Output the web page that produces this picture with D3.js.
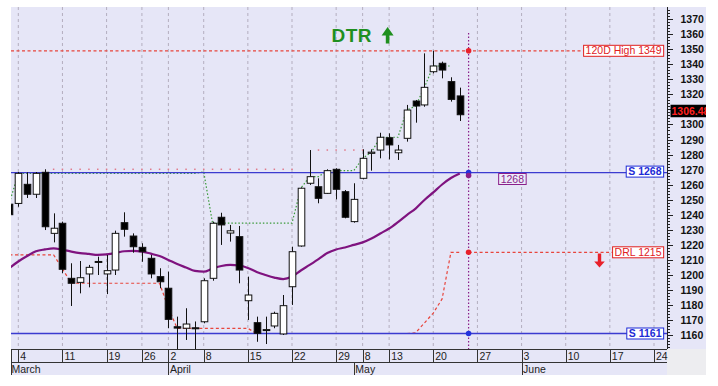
<!DOCTYPE html>
<html>
<head>
<meta charset="utf-8">
<script src="https://cdn.jsdelivr.net/npm/d3@7/dist/d3.min.js"></script>
<style>
body { margin: 0; background: #fff; }
svg { display: block; }
text { font-family: "Liberation Sans", Arial, sans-serif; }
</style>
</head>
<body>
<div id="chart"></div>
<script>
// candle data, trading day index -1 .. 50
var dayIdx = d3.range(-1, 51);
var open  = [1247, 1247.5, 1260.2, 1253.6, 1268.2, 1227.6, 1234.3, 1197.7, 1195.0, 1200.6, 1208.4, 1200.6, 1203.2, 1234.7, 1225.8, 1218.3, 1211.0, 1198.8, 1191.1, 1165.5, 1164.5, 1164.8, 1168.8, 1197.7, 1238.3, 1227.8, 1225.4, 1182.8, 1168.2, 1163.3, 1166.0, 1160.7, 1192.1, 1219.2, 1260.9, 1258.6, 1254.2, 1270.2, 1255.3, 1235.4, 1264.2, 1280.8, 1283.0, 1291.2, 1281.2, 1290.8, 1315.6, 1313.0, 1335.1, 1340.7, 1328.5, 1319.0];
var high  = [1249, 1268.4, 1268.2, 1268.4, 1270.2, 1240.9, 1235.4, 1207.7, 1209.2, 1206.6, 1212.1, 1213.2, 1229.4, 1241.6, 1227.6, 1221.0, 1213.2, 1204.4, 1202.1, 1172.2, 1177.8, 1169.0, 1197.7, 1235.4, 1241.3, 1233.2, 1232.5, 1198.8, 1172.2, 1172.2, 1175.5, 1186.6, 1218.7, 1258.2, 1283.0, 1264.2, 1270.2, 1270.9, 1256.4, 1260.9, 1283.5, 1283.5, 1294.5, 1294.1, 1286.4, 1313.0, 1316.3, 1347.3, 1349.0, 1341.8, 1331.4, 1324.5];
var low   = [1238, 1245.3, 1251.1, 1251.1, 1229.8, 1221.6, 1201.2, 1179.3, 1187.7, 1191.7, 1199.9, 1187.2, 1199.9, 1225.4, 1214.7, 1208.7, 1197.7, 1191.1, 1164.5, 1150.0, 1156.7, 1150.0, 1167.8, 1196.1, 1219.9, 1222.1, 1194.4, 1170.0, 1155.5, 1154.0, 1164.5, 1160.0, 1180.0, 1218.7, 1259.8, 1247.6, 1253.8, 1250.2, 1237.6, 1234.7, 1263.5, 1269.3, 1277.5, 1276.8, 1276.4, 1288.6, 1301.2, 1311.8, 1334.0, 1330.7, 1315.2, 1302.3];
var close = [1240, 1267.5, 1253.6, 1267.5, 1232.0, 1231.0, 1203.7, 1194.4, 1198.1, 1205.0, 1208.9, 1202.8, 1227.6, 1230.3, 1218.7, 1215.4, 1200.6, 1195.4, 1170.4, 1164.6, 1167.3, 1164.3, 1196.1, 1234.3, 1233.2, 1229.3, 1203.2, 1186.6, 1161.1, 1163.6, 1174.4, 1179.5, 1215.4, 1257.6, 1265.3, 1250.9, 1269.3, 1256.9, 1238.3, 1250.2, 1277.5, 1281.6, 1291.5, 1286.4, 1283.0, 1309.6, 1312.3, 1324.7, 1338.9, 1336.2, 1316.7, 1306.48];

// moving average (purple)
var maLine = [1204.6, 1208.9, 1212.5, 1215.7, 1216.9, 1217.6, 1216.7, 1215.5, 1214.5, 1213.9, 1213.3, 1213.6, 1214.5, 1215.7, 1215.9, 1215.5, 1214.1, 1212.5, 1209.9, 1207.2, 1204.9, 1202.6, 1202.1, 1204.2, 1205.9, 1206.6, 1206.2, 1204.6, 1201.9, 1199.9, 1198.2, 1197.2, 1198.9, 1202.9, 1206.6, 1210.5, 1214.5, 1216.9, 1218.2, 1219.9, 1221.6, 1224.2, 1227.5, 1230.8, 1235.1, 1239.8, 1244.1, 1249.8, 1254.8, 1260.1, 1264.4, 1267.4];

// DTR trailing lines
var trailUp = [1248, 1267.5, 1267.5, 1267.5, 1267.5, 1267.5, 1267.5, 1267.5, 1267.5, 1267.5, 1267.5, 1267.5, 1267.5, 1267.5, 1267.5, 1267.5, 1267.5, 1267.5, 1267.5, 1267.5, 1267.5, 1267.5, 1268.5, 1234.4, 1234.4, 1234.4, 1234.4, 1234.4, 1234.4, 1234.4, 1234.4, 1234.4, 1234.4, 1257.6, 1265.3, 1265.3, 1269.3, 1269.3, 1269.3, 1269.3, 1277.5, 1281.6, 1291.5, 1291.5, 1291.5, 1309.6, 1312.3, 1324.7, 1338.9, 1338.9, 1338.9, null];
var trailDn = [1213.3, 1213.3, 1213.3, 1213.3, 1213.3, 1213.3, 1204.0, 1194.4, 1194.4, 1194.4, 1194.4, 1194.4, 1194.4, 1194.4, 1194.4, 1194.4, 1194.4, 1194.4, 1178.0, 1164.4, 1164.4, 1164.4, 1164.4, 1164.4, 1164.4, 1164.4, 1164.4, 1164.4, 1161.0, 1161.0, 1161.0, 1161.0, 1161.0, 1161.0, 1161.0, 1161.0, 1161.0, 1161.0, 1161.0, 1161.0, 1161.0, 1161.0, 1161.0, 1161.0, 1161.0, 1161.0, 1161.5, 1168.0, 1174.6, 1184.0, 1215.0, 1215.0];

// swing high markers
var markIdx = d3.range(4, 32).concat(d3.range(34, 40));
var markVal = markIdx.map(function (i) { return i < 32 ? 1270.2 : 1283.0; });

// date axis
var tickIdx = [0, 5, 10, 14, 17, 21, 26, 31, 36, 39, 42, 47, 52, 57, 62, 67, 72];
var tickLabels = ["4", "11", "19", "26", "2", "8", "15", "22", "29", "8", "13", "20", "27", "3", "10", "17", "24"];
var monthIdx = [17, 38, 57];
var monthLabels = ["March", "April", "May", "June"];

// price axis labels (1310 sits under the last price tag)
var priceLabels = [1160, 1170, 1180, 1190, 1200, 1210, 1220, 1230, 1240, 1250, 1260, 1270, 1280, 1290, 1300, 1320, 1330, 1340, 1350, 1360, 1370];

// price levels
var hiLevel = 1349, supTop = 1268, supBot = 1161, drlLevel = 1215, maEnd = 1266;
var markerIdx = 51;

var W = 718, H = 386;
var L = 11, T = 7, R = 667, B = 349;

var x = d3.scaleLinear().domain([0, 72]).range([18.3, 654]);
var y = d3.scaleLinear().domain([1160, 1350]).range([335, 49.3]);

var svg = d3.select("#chart").append("svg").attr("width", W).attr("height", H);

svg.append("rect").attr("width", W).attr("height", H).attr("fill", "#fff");
svg.append("rect").attr("x", L).attr("y", T).attr("width", 706 - L).attr("height", 375 - T).attr("fill", "#e6e6f7");
svg.append("rect").attr("x", R).attr("y", B).attr("width", 706 - R).attr("height", 375 - B).attr("fill", "#ededf0");

svg.append("clipPath").attr("id", "clip").append("rect")
    .attr("x", L).attr("y", T).attr("width", R - L).attr("height", B - T);

var g = svg.append("g").attr("clip-path", "url(#clip)");

// vertical grid
g.selectAll(".grid").data(tickIdx).enter().append("line")
    .attr("x1", function (d) { return x(d); }).attr("x2", function (d) { return x(d); })
    .attr("y1", T).attr("y2", B)
    .attr("stroke", "#b4aebf").attr("stroke-width", 1).attr("stroke-dasharray", "3,3");

// swing high dots
g.selectAll(".mark").data(markIdx).enter().append("rect")
    .attr("x", function (d) { return x(d) - 0.75; })
    .attr("y", function (d, k) { return y(markVal[k]) - 0.75; })
    .attr("width", 1.5).attr("height", 1.5)
    .attr("fill", "#e07a8a");

// trailing lines
var line = d3.line()
    .defined(function (d) { return d[1] != null; })
    .x(function (d) { return x(d[0]); })
    .y(function (d) { return y(d[1]); });

g.append("path")
    .datum(dayIdx.map(function (d, k) { return [d, trailDn[k]]; }))
    .attr("d", line).attr("fill", "none")
    .attr("stroke", "#e8453c").attr("stroke-width", 1.2).attr("stroke-dasharray", "3,2.5");

g.append("path")
    .datum(dayIdx.map(function (d, k) { return [d, trailUp[k]]; }))
    .attr("d", line).attr("fill", "none")
    .attr("stroke", "#3a9a3a").attr("stroke-width", 1.2).attr("stroke-dasharray", "1.5,2");

// level lines
g.append("line").attr("x1", L).attr("x2", 586).attr("y1", y(hiLevel)).attr("y2", y(hiLevel))
    .attr("stroke", "#e8453c").attr("stroke-width", 1.2).attr("stroke-dasharray", "3,2.5");
g.append("line").attr("x1", x(markerIdx)).attr("x2", 617).attr("y1", y(drlLevel)).attr("y2", y(drlLevel))
    .attr("stroke", "#e8453c").attr("stroke-width", 1.2).attr("stroke-dasharray", "3,2.5");
[supTop, supBot].forEach(function (v) {
    g.append("line").attr("x1", L).attr("x2", R).attr("y1", y(v)).attr("y2", y(v))
        .attr("stroke", "#3b3bd0").attr("stroke-width", 1.3);
});

// moving average
g.append("path")
    .datum(dayIdx.map(function (d, k) { return [d, maLine[k]]; }))
    .attr("d", line.curve(d3.curveMonotoneX)).attr("fill", "none")
    .attr("stroke", "#7f137f").attr("stroke-width", 2.2);
line.curve(d3.curveLinear);

// candles
var bw = 6.6;
var candle = g.selectAll(".candle").data(dayIdx).enter().append("g");
candle.append("line")
    .attr("x1", function (d) { return Math.round(x(d)) + 0.5; })
    .attr("x2", function (d) { return Math.round(x(d)) + 0.5; })
    .attr("y1", function (d, k) { return y(high[k]); })
    .attr("y2", function (d, k) { return y(low[k]); })
    .attr("stroke", "#111").attr("stroke-width", 1);
candle.append("rect")
    .attr("x", function (d) { return Math.round(x(d)) + 0.5 - bw / 2; })
    .attr("y", function (d, k) { return y(Math.max(open[k], close[k])); })
    .attr("width", bw)
    .attr("height", function (d, k) { return Math.max(1, Math.abs(y(open[k]) - y(close[k]))); })
    .attr("fill", function (d, k) { return close[k] >= open[k] ? "#fff" : "#000"; })
    .attr("stroke", "#111").attr("stroke-width", 1);

// today marker
g.append("line").attr("x1", x(markerIdx)).attr("x2", x(markerIdx)).attr("y1", 33).attr("y2", B)
    .attr("stroke", "#8a1f8a").attr("stroke-width", 1.2).attr("stroke-dasharray", "1.5,2");
var dots = [[hiLevel, "#e8202a"], [supTop, "#2233dd"], [maEnd, "#8a1f8a"], [drlLevel, "#e8202a"], [supBot, "#2233dd"]];
g.selectAll(".dot").data(dots).enter().append("circle")
    .attr("cx", x(markerIdx)).attr("cy", function (d) { return y(d[0]); })
    .attr("r", 2.8).attr("fill", function (d) { return d[1]; });

// level labels
function tag(txt, right, cy, color, bold, bg) {
    var t = svg.append("text").attr("x", right - 2).attr("y", cy + 3.6)
        .attr("text-anchor", "end").attr("font-size", 10.5)
        .attr("font-weight", bold ? "bold" : "normal").attr("fill", color).text(txt);
    var bb = t.node().getBBox();
    svg.insert("rect", function () { return t.node(); })
        .attr("x", bb.x - 2).attr("y", cy - 5.5).attr("width", bb.width + 4).attr("height", 11)
        .attr("fill", bg || "#fff").attr("stroke", color).attr("stroke-width", 1);
}
tag("120D High " + hiLevel, 663.5, y(hiLevel), "#e0201e", false);
tag("S " + supTop, 663.5, y(supTop) - 1, "#1d2bd6", true);
tag("DRL " + drlLevel, 663.5, y(drlLevel), "#e0201e", false);
tag("S " + supBot, 663.5, y(supBot), "#1d2bd6", true);
tag("" + supTop, 526, 179, "#8a1f8a", false, "#ececf9");

// arrows
svg.append("path").attr("fill", "#e8202a")
    .attr("d", "M597.8,253.5 h3.4 v8 h3.6 l-5.3,6 l-5.3,-6 h3.6 z");
svg.append("path").attr("fill", "#1f8f1f")
    .attr("d", "M385.8,43.5 h3.6 v-8 h4.2 l-6,-8.5 l-6,8.5 h4.2 z");
svg.append("text").attr("x", 331.5).attr("y", 42).attr("font-size", 19).attr("font-weight", "bold")
    .attr("fill", "#1f8f1f").attr("letter-spacing", 0.5).text("DTR");

// right price axis
svg.append("line").attr("x1", R + 0.5).attr("x2", R + 0.5).attr("y1", T).attr("y2", B)
    .attr("stroke", "#222");
var yTicks = d3.range(1152, 1378, 2);
svg.selectAll(".yt").data(yTicks).enter().append("line")
    .attr("x1", R).attr("x2", function (d) { return d % 10 === 0 ? R + 6 : R + 3; })
    .attr("y1", function (d) { return Math.round(y(d)) + 0.5; })
    .attr("y2", function (d) { return Math.round(y(d)) + 0.5; })
    .attr("stroke", "#222");
svg.selectAll(".yl").data(priceLabels).enter().append("text")
    .attr("x", 680.5).attr("y", function (d) { return y(d) + 4; })
    .attr("font-size", 10.5).attr("font-weight", "bold").attr("fill", "#111")
    .text(function (d) { return d; });

// last price tag
var lastClose = close[close.length - 1];
var lastY = y(lastClose) - 3.5;
svg.append("rect").attr("x", 670.5).attr("y", lastY - 6.5).attr("width", 40).attr("height", 12.5).attr("fill", "#000");
svg.append("text").attr("x", 671.5).attr("y", lastY + 3.8).attr("font-size", 10.5).attr("font-weight", "bold")
    .attr("fill", "#ff2020").text(lastClose.toFixed(2));
svg.append("rect").attr("x", 706).attr("y", 0).attr("width", W - 706).attr("height", H).attr("fill", "#fff");

// date axis
svg.append("line").attr("x1", L).attr("x2", R).attr("y1", B + 0.5).attr("y2", B + 0.5).attr("stroke", "#333");
svg.append("line").attr("x1", L).attr("x2", R).attr("y1", 362.5).attr("y2", 362.5).attr("stroke", "#333");
svg.append("line").attr("x1", L + 0.5).attr("x2", L + 0.5).attr("y1", B).attr("y2", 375).attr("stroke", "#333");
svg.selectAll(".xt").data(tickIdx).enter().append("line")
    .attr("x1", function (d) { return Math.round(x(d)) + 0.5; })
    .attr("x2", function (d) { return Math.round(x(d)) + 0.5; })
    .attr("y1", B).attr("y2", 362).attr("stroke", "#333");
svg.selectAll(".xl").data(tickIdx).enter().append("text")
    .attr("x", function (d) { return x(d) + 2; }).attr("y", 359.5)
    .attr("font-size", 10.5).attr("fill", "#222")
    .text(function (d, k) { return tickLabels[k]; });
svg.selectAll(".mt").data(monthIdx).enter().append("line")
    .attr("x1", function (d) { return Math.round(x(d)) + 0.5; })
    .attr("x2", function (d) { return Math.round(x(d)) + 0.5; })
    .attr("y1", 362).attr("y2", 375).attr("stroke", "#333");
svg.selectAll(".ml").data([L - 1].concat(monthIdx.map(function (d) { return x(d); }))).enter().append("text")
    .attr("x", function (d) { return d + 1.5; }).attr("y", 372.5)
    .attr("font-size", 10.5).attr("fill", "#222")
    .text(function (d, k) { return monthLabels[k]; });
</script>
</body>
</html>
